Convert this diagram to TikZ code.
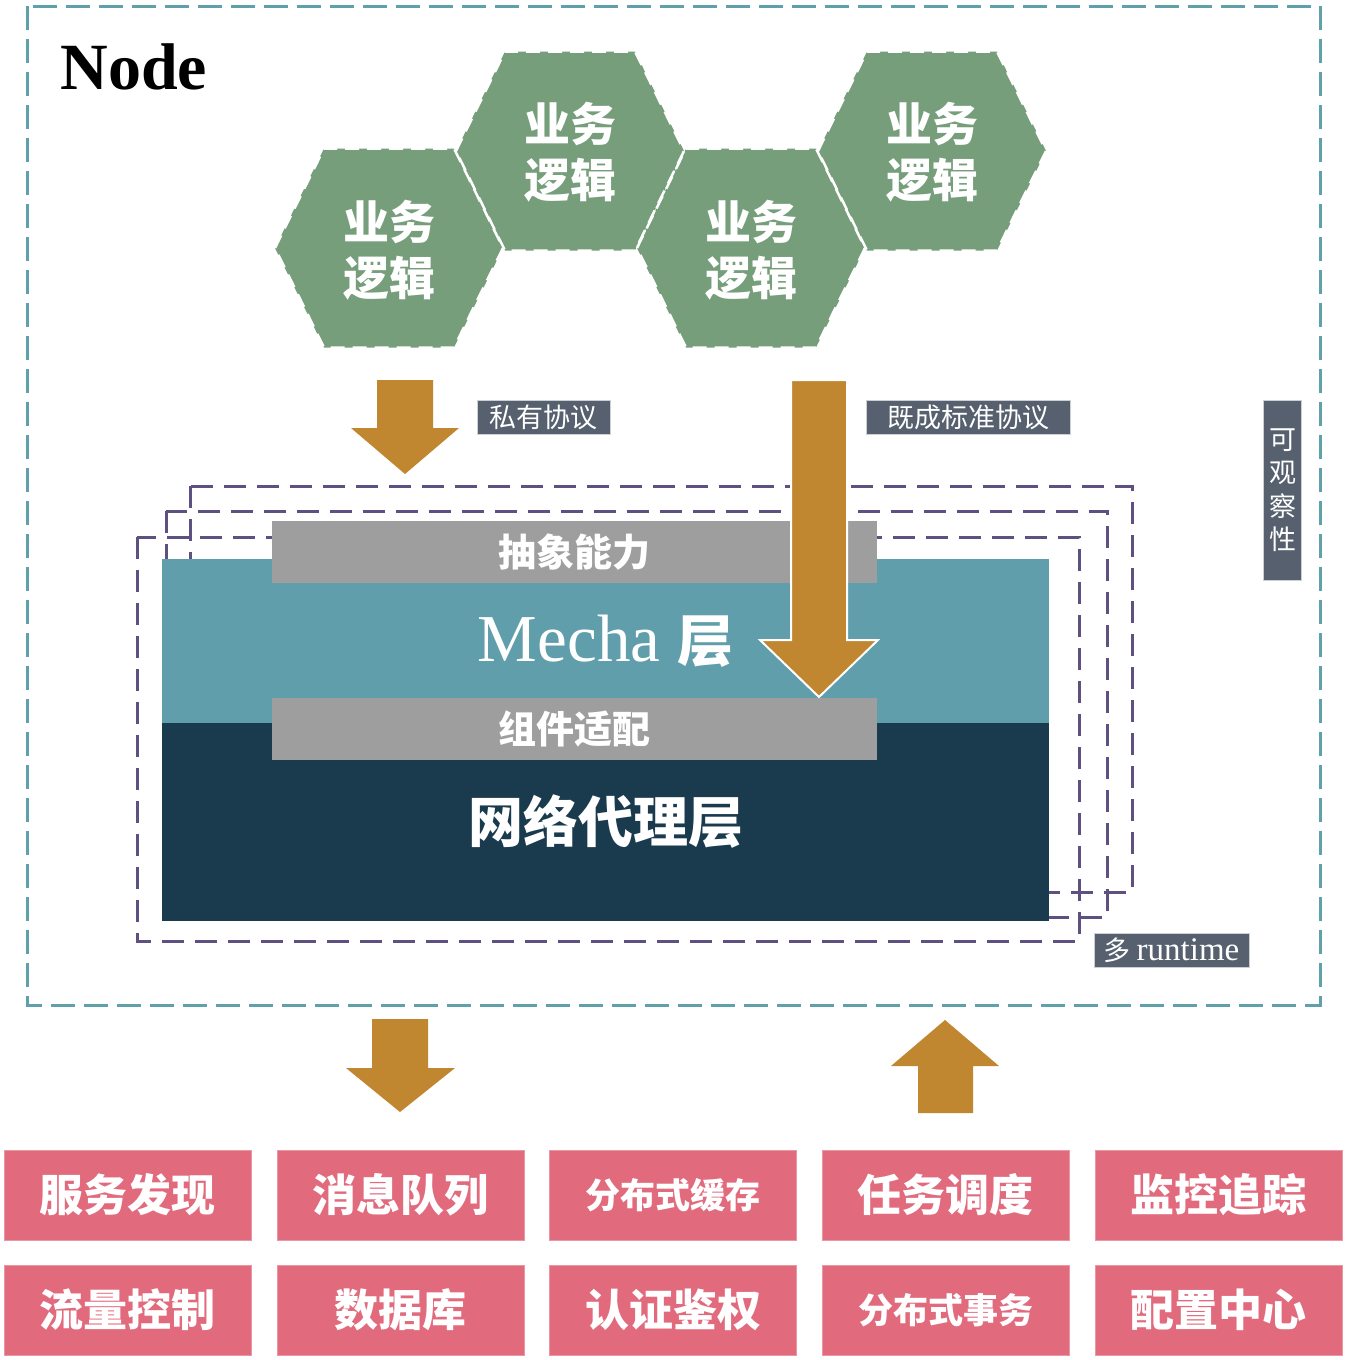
\documentclass[tikz,border=0pt]{standalone}
\usepackage{fontspec}
\setmainfont{Liberation Serif}
\newfontfamily\cjk{Noto Sans CJK SC}
\definecolor{tealdash}{RGB}{95,160,170}
\definecolor{mechac}{RGB}{95,158,170}
\definecolor{navyc}{RGB}{26,58,78}
\definecolor{hexg}{RGB}{118,158,123}
\definecolor{goldc}{RGB}{192,134,48}
\definecolor{slatec}{RGB}{86,96,110}
\definecolor{purpc}{RGB}{94,80,128}
\definecolor{pinkc}{RGB}{225,106,125}
\definecolor{barc}{RGB}{158,158,158}
\tikzset{
  hexfill/.style={fill=hexg},
  hexedge/.style={draw=white, line width=2.5pt, dash pattern=on 14pt off 8pt},
  hextext/.style={text=white, align=center, font=\cjk\bfseries\fontsize{46}{56}\selectfont},
  runtimebox/.style={draw=purpc, line width=3pt, dash pattern=on 22pt off 11pt},
  blockarrow/.style={fill=goldc},
  tagbox/.style={fill=slatec, draw=white!70!slatec, line width=1pt, text=white, inner sep=0pt,
     minimum height=34pt, font=\cjk\fontsize{27}{33}\selectfont},
  barbox/.style={fill=barc, text=white, inner sep=0pt, minimum width=605pt, minimum height=62pt,
     font=\cjk\bfseries\fontsize{38}{44}\selectfont},
  layerbox/.style={inner sep=0pt, minimum width=887pt, text=white},
  svc/.style={fill=pinkc, draw=pinkc!70!white, line width=1pt, text=white, inner sep=0pt,
     minimum width=247pt, minimum height=90pt, font=\cjk\bfseries\fontsize{44}{50}\selectfont},
  svcsmall/.style={svc, font=\cjk\bfseries\fontsize{35}{40}\selectfont}
}
\begin{document}
\begin{tikzpicture}[x=1pt,y=-1pt]
\useasboundingbox[fill=white] (0,0) rectangle (1348,1360);

% outer node frame
\draw[tealdash, line width=3pt, dash pattern=on 24pt off 9pt] (27,6) rectangle (1320,1005);
\node[anchor=base west, font=\bfseries\fontsize{66}{70}\selectfont] (title) at (57,89) {Node};

% hexagons
\foreach \cx/\cy in {389/248, 570/151, 751/248, 932/151} {
  \fill[hexfill] (\cx-114,\cy) -- (\cx-65,\cy-99.5) -- (\cx+65,\cy-99.5) -- (\cx+114,\cy)
     -- (\cx+65,\cy+99.5) -- (\cx-65,\cy+99.5) -- cycle;
}
\foreach \cx/\cy in {389/248, 570/151, 751/248, 932/151} {
  \draw[hexedge] (\cx-114,\cy) -- (\cx-65,\cy-99.5) -- (\cx+65,\cy-99.5) -- (\cx+114,\cy)
     -- (\cx+65,\cy+99.5) -- (\cx-65,\cy+99.5) -- cycle;
}
\node[hextext] (hex1) at (389,250) {业务\\逻辑};
\node[hextext] (hex2) at (570,152) {业务\\逻辑};
\node[hextext] (hex3) at (751,250) {业务\\逻辑};
\node[hextext] (hex4) at (932,152) {业务\\逻辑};

% runtime frames
\draw[runtimebox] (190,486) rectangle (1132,892);
\draw[runtimebox] (166,511) rectangle (1107,917);
\draw[runtimebox] (137,537) rectangle (1079,941);

% layers
\node[layerbox, fill=mechac, minimum height=164pt] (mecha) at (605.5,641)
  {\fontsize{67}{70}\selectfont Mecha {\cjk\bfseries\fontsize{56}{60}\selectfont 层}};
\node[layerbox, fill=navyc, minimum height=198pt] (proxy) at (605.5,822)
  {\cjk\bfseries\fontsize{55}{60}\selectfont 网络代理层};
\node[barbox] (abstr) at (574.5,552) {抽象能力};
\node[barbox] (adapt) at (574.5,729) {组件适配};

% protocol arrows
\fill[blockarrow] (377,380) -- (433,380) -- (433,428) -- (459,428) -- (405,474) -- (351,428) -- (377,428) -- cycle;
\filldraw[blockarrow, draw=white, line width=2pt] (791,380) -- (847,380) -- (847,640) -- (878,640) -- (819,697) -- (760,640) -- (791,640) -- cycle;
\node[tagbox, minimum width=133pt] (priv) at (543.5,417) {私有协议};
\node[tagbox, minimum width=204pt] (std) at (968,417) {既成标准协议};

% side labels
\node[tagbox, minimum width=38pt, minimum height=180pt, align=center,
      font=\cjk\fontsize{27}{33.5}\selectfont] (obs) at (1282.5,490) {可\\观\\察\\性};
\node[tagbox, minimum width=155pt] (multi) at (1171.5,950)
  {{\cjk\fontsize{27}{33}\selectfont 多} {\rmfamily\fontsize{33}{36}\selectfont runtime}};

% bottom arrows
\fill[blockarrow] (372,1019) -- (428,1019) -- (428,1068) -- (455,1068) -- (400,1112) -- (346,1068) -- (372,1068) -- cycle;
\fill[blockarrow] (918,1113) -- (973,1113) -- (973,1066) -- (999,1066) -- (945,1020) -- (891,1066) -- (918,1066) -- cycle;

% services
\node[svc] (s11) at (127.5,1195) {服务发现};
\node[svc] (s12) at (400.5,1195) {消息队列};
\node[svcsmall] (s13) at (673,1195) {分布式缓存};
\node[svc] (s14) at (945.5,1195) {任务调度};
\node[svc] (s15) at (1218.5,1195) {监控追踪};
\node[svc] (s21) at (127.5,1310) {流量控制};
\node[svc] (s22) at (400.5,1310) {数据库};
\node[svc] (s23) at (673,1310) {认证鉴权};
\node[svcsmall] (s24) at (945.5,1310) {分布式事务};
\node[svc] (s25) at (1218.5,1310) {配置中心};
\end{tikzpicture}
\end{document}
